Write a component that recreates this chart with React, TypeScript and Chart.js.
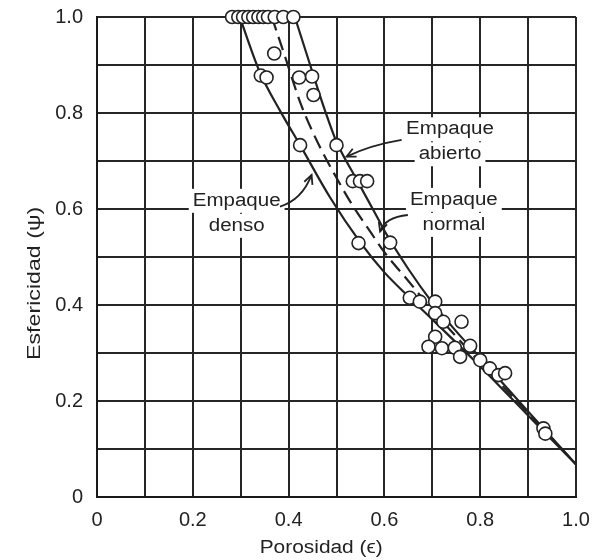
import React, { useEffect, useRef } from "react";
import { Chart, registerables } from "chart.js";

Chart.register(...registerables);

// ---- Data ----
const tickValues = [0, 0.2, 0.4, 0.6, 0.8, 1.0];
const tickLabels = ["0", "0.2", "0.4", "0.6", "0.8", "1.0"];

const densoX = [0.298, 0.34, 0.382, 0.424, 0.486, 0.55, 0.6, 0.65, 0.7, 0.8, 0.9, 1.0];
const densoY = [1.0, 0.885, 0.805, 0.733, 0.625, 0.53, 0.468, 0.418, 0.37, 0.272, 0.17, 0.068];

const normalX = [0.365, 0.395, 0.425, 0.46, 0.5, 0.532, 0.573, 0.6, 0.65, 0.7, 0.8, 0.9, 1.0];
const normalY = [1.0, 0.91, 0.82, 0.74, 0.665, 0.61, 0.549, 0.51, 0.45, 0.39, 0.28, 0.175, 0.068];

const abiertoX = [0.413, 0.445, 0.476, 0.5, 0.54, 0.584, 0.601, 0.65, 0.7, 0.75, 0.8, 0.9, 1.0];
const abiertoY = [1.0, 0.9, 0.805, 0.74, 0.665, 0.585, 0.553, 0.475, 0.405, 0.345, 0.29, 0.178, 0.068];

const pointX = [
  0.282, 0.295, 0.305, 0.316, 0.326, 0.337, 0.347, 0.357, 0.371, 0.389, 0.41,
  0.37, 0.342, 0.354, 0.422, 0.449, 0.452,
  0.424, 0.5, 0.534, 0.549, 0.564, 0.546, 0.612,
  0.653, 0.674, 0.706, 0.706, 0.723, 0.761, 0.706, 0.692, 0.72, 0.747, 0.779,
  0.758, 0.8, 0.82, 0.838, 0.852, 0.932, 0.936,
];
const pointY = [
  1.0, 1.0, 1.0, 1.0, 1.0, 1.0, 1.0, 1.0, 1.0, 1.0, 1.0,
  0.924, 0.878, 0.874, 0.874, 0.876, 0.8375,
  0.733, 0.733, 0.658, 0.658, 0.658, 0.529, 0.53,
  0.415, 0.407, 0.407, 0.383, 0.365, 0.365, 0.334, 0.313, 0.31, 0.311, 0.315,
  0.292, 0.285, 0.268, 0.254, 0.258, 0.143, 0.132,
];

const annotTexts = [["Empaque", "abierto"], ["Empaque", "denso"], ["Empaque", "normal"]];
const annotAnchorX = [0.737, 0.2916, 0.745];
const annotAnchorY = [0.74, 0.591, 0.593];
// arrows: start, control, end (data units)
const arrowStart = [[0.636, 0.744], [0.382, 0.605], [0.649, 0.5875]];
const arrowCtrl = [[0.570, 0.733], [0.428, 0.619], [0.601, 0.583]];
const arrowEnd = [[0.521, 0.709], [0.448, 0.671], [0.591, 0.553]];

const xTitle = "Porosidad (ϵ)";
const yTitle = "Esfericidad (ψ)";

const FONT = "'Liberation Sans', Arial, Helvetica, sans-serif";
const INK = "#222";

const toPts = (xs: number[], ys: number[]) => xs.map((x, i) => ({ x, y: ys[i] }));

const fmtTick = (v: number | string) => {
  const k = Math.round(Number(v) * 10);
  const idx = tickValues.findIndex((t) => Math.round(t * 10) === k);
  return idx >= 0 ? tickLabels[idx] : "";
};

const drawStretched = (ctx: CanvasRenderingContext2D, text: string, x: number, y: number, sx: number, rot = 0) => {
  ctx.save();
  ctx.translate(x, y);
  if (rot) ctx.rotate(rot);
  ctx.scale(sx, 1);
  ctx.fillText(text, 0, 0);
  ctx.restore();
};

const zeroPadding = (s: any) => {
  s.paddingTop = 0;
  s.paddingBottom = 0;
  s.paddingLeft = 0;
  s.paddingRight = 0;
};

const annotPlugin = {
  id: "annot",
  afterDatasetsDraw(chart: any) {
    const { ctx, chartArea, scales } = chart;
    const xs = scales.x;
    const ys = scales.y;
    ctx.save();
    ctx.textAlign = "center";
    ctx.textBaseline = "middle";
    const SX = 1.14;
    ctx.font = `18px ${FONT}`;
    const lineGap = 25;
    annotTexts.forEach((lines, i) => {
      const cx = xs.getPixelForValue(annotAnchorX[i]);
      const cy = ys.getPixelForValue(annotAnchorY[i]);
      lines.forEach((t, j) => {
        const y = cy + (j - (lines.length - 1) / 2) * lineGap;
        const w = ctx.measureText(t).width * SX;
        ctx.fillStyle = "#fff";
        ctx.fillRect(cx - w / 2 - 4, y - 12, w + 8, 24);
      });
      lines.forEach((t, j) => {
        const y = cy + (j - (lines.length - 1) / 2) * lineGap;
        ctx.fillStyle = INK;
        drawStretched(ctx, t, cx, y, SX);
      });
      // arrow
      const sx = xs.getPixelForValue(arrowStart[i][0]);
      const sy = ys.getPixelForValue(arrowStart[i][1]);
      const qx = xs.getPixelForValue(arrowCtrl[i][0]);
      const qy = ys.getPixelForValue(arrowCtrl[i][1]);
      const ex = xs.getPixelForValue(arrowEnd[i][0]);
      const ey = ys.getPixelForValue(arrowEnd[i][1]);
      ctx.strokeStyle = INK;
      ctx.lineWidth = 1.8;
      ctx.beginPath();
      ctx.moveTo(sx, sy);
      ctx.quadraticCurveTo(qx, qy, ex, ey);
      ctx.stroke();
      const ang = Math.atan2(ey - qy, ex - qx);
      const L = 10;
      const a = 0.45;
      ctx.beginPath();
      ctx.moveTo(ex - L * Math.cos(ang - a), ey - L * Math.sin(ang - a));
      ctx.lineTo(ex, ey);
      ctx.lineTo(ex - L * Math.cos(ang + a), ey - L * Math.sin(ang + a));
      ctx.stroke();
    });
    // axis titles
    ctx.fillStyle = INK;
    const w = chartArea.right - chartArea.left;
    const h = chartArea.bottom - chartArea.top;
    ctx.font = `18px ${FONT}`;
    drawStretched(ctx, xTitle, chartArea.left + w * 0.468, chartArea.bottom + 51, 1.16);
    ctx.font = `19px ${FONT}`;
    drawStretched(ctx, yTitle, chartArea.left - 62, chartArea.top + h * 0.555, 1.22, -Math.PI / 2);
    ctx.restore();
  },
};

export default function App() {
  const ref = useRef<HTMLCanvasElement>(null);
  useEffect(() => {
    const gridCfg = { color: "#262626", lineWidth: 2, drawTicks: false };
    const borderCfg = { color: "#1a1a1a", width: 2 };
    const tickFont = { family: FONT, size: 20 };
    const chart = new Chart(ref.current as HTMLCanvasElement, {
      type: "scatter",
      data: {
        datasets: [
          {
            label: "datos",
            data: toPts(pointX, pointY),
            pointRadius: 6.5,
            pointBackgroundColor: "#fff",
            pointBorderColor: INK,
            pointBorderWidth: 1.6,
            showLine: false,
            clip: false,
          } as any,
          {
            label: "Empaque denso",
            data: toPts(densoX, densoY),
            showLine: true,
            pointRadius: 0,
            borderColor: INK,
            borderWidth: 2.2,
            cubicInterpolationMode: "monotone",
          },
          {
            label: "Empaque normal",
            data: toPts(normalX, normalY),
            showLine: true,
            pointRadius: 0,
            borderColor: INK,
            borderWidth: 2.2,
            borderDash: [14, 7],
            cubicInterpolationMode: "monotone",
          },
          {
            label: "Empaque abierto",
            data: toPts(abiertoX, abiertoY),
            showLine: true,
            pointRadius: 0,
            borderColor: INK,
            borderWidth: 2.2,
            cubicInterpolationMode: "monotone",
          },
        ],
      },
      options: {
        responsive: false,
        animation: false,
        layout: { autoPadding: false, padding: { left: 0, right: 17, top: 17, bottom: 0 } },
        plugins: { legend: { display: false }, tooltip: { enabled: false } },
        scales: {
          x: {
            type: "linear",
            min: 0,
            max: 1,
            afterFit: (s: any) => {
              s.height = 63;
              zeroPadding(s);
            },
            ticks: {
              stepSize: 0.1,
              autoSkip: false,
              maxRotation: 0,
              padding: 11,
              color: INK,
              font: tickFont,
              callback: (v: any) => fmtTick(v),
            },
            grid: gridCfg,
            border: borderCfg,
          },
          y: {
            type: "linear",
            min: 0,
            max: 1,
            afterFit: (s: any) => {
              s.width = 97;
              zeroPadding(s);
            },
            ticks: {
              stepSize: 0.1,
              autoSkip: false,
              padding: 14,
              color: INK,
              font: tickFont,
              callback: (v: any) => fmtTick(v),
            },
            grid: gridCfg,
            border: borderCfg,
          },
        },
      } as any,
      plugins: [annotPlugin],
    });
    return () => chart.destroy();
  }, []);
  return (
    <div style={{ position: "fixed", left: 0, top: 0, width: 593, height: 560, background: "#fff" }}>
      <canvas ref={ref} width={593} height={560} style={{ display: "block" }} />
    </div>
  );
}
